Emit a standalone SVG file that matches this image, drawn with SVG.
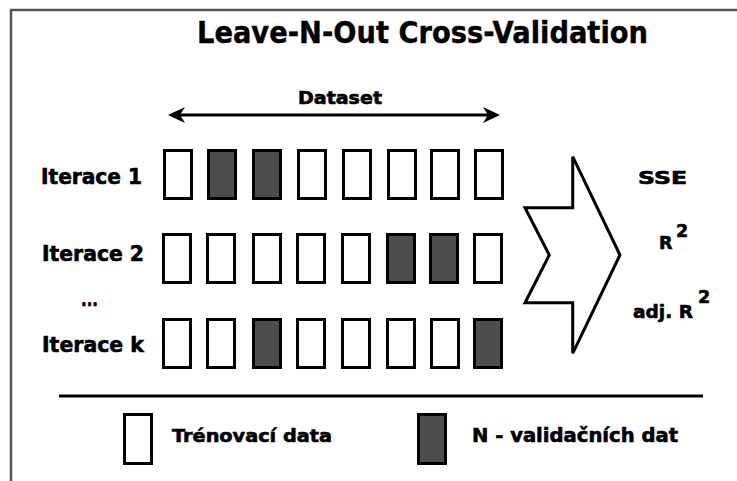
<svg xmlns="http://www.w3.org/2000/svg" width="737" height="481" viewBox="0 0 737 481">
<style>
.lbl{font-family:"DejaVu Sans","Verdana",sans-serif;font-weight:bold;fill:#000;stroke:#000;stroke-width:0.6}
.ttl{font-family:"DejaVu Sans","Verdana",sans-serif;font-weight:bold;fill:#000;stroke:#000;stroke-width:0.4}
.tr{fill:#fff;stroke:#000;stroke-width:3}
.va{fill:#4d4d4d;stroke:#000;stroke-width:3}
</style>
<defs>
<rect id="b" width="27" height="48"/>
</defs>
<rect width="737" height="481" fill="#fff"/>
<path d="M11,481 V10 H737" fill="none" stroke="#555" stroke-width="2.5"/>
<g id="title">
<text class="ttl" x="197" y="43" font-size="30" textLength="451" lengthAdjust="spacingAndGlyphs">Leave-N-Out Cross-Validation</text>
</g>
<g id="dataset">
<text class="lbl" x="298" y="104" font-size="17" textLength="84" lengthAdjust="spacingAndGlyphs">Dataset</text>
</g>
<g id="connectors">
<line x1="176" y1="115" x2="492" y2="115" stroke="#000" stroke-width="3"/>
<polygon points="168,115 185,107 180,115 185,123" fill="#000"/>
<polygon points="500,115 483,107 488,115 483,123" fill="#000"/>
<polygon points="572.7,156.7 572.7,207.7 525,207.7 549.3,255 525,302.7 572.7,302.7 572.7,353.3 620,255" fill="#fff" stroke="#000" stroke-width="3" stroke-linejoin="miter"/>
</g>
<g id="row1">
<text class="lbl" x="41" y="184" font-size="20.5" textLength="101" lengthAdjust="spacingAndGlyphs">Iterace 1</text>
<use href="#b" class="tr" x="164.5" y="150.5"/>
<use href="#b" class="va" x="208.5" y="150.5"/>
<use href="#b" class="va" x="253.5" y="150.5"/>
<use href="#b" class="tr" x="298.5" y="150.5"/>
<use href="#b" class="tr" x="343.5" y="150.5"/>
<use href="#b" class="tr" x="388.5" y="150.5"/>
<use href="#b" class="tr" x="431.5" y="150.5"/>
<use href="#b" class="tr" x="475.5" y="150.5"/>
</g>
<g id="row2">
<text class="lbl" x="42" y="261" font-size="20.5" textLength="102" lengthAdjust="spacingAndGlyphs">Iterace 2</text>
<use href="#b" class="tr" x="163.5" y="234.5"/>
<use href="#b" class="tr" x="207.5" y="234.5"/>
<use href="#b" class="tr" x="253.5" y="234.5"/>
<use href="#b" class="tr" x="297.5" y="234.5"/>
<use href="#b" class="tr" x="342.5" y="234.5"/>
<use href="#b" class="va" x="387.5" y="234.5"/>
<use href="#b" class="va" x="430.5" y="234.5"/>
<use href="#b" class="tr" x="474.5" y="234.5"/>
</g>
<g id="dots">
<text class="lbl" x="81" y="306" font-size="18" textLength="17" lengthAdjust="spacingAndGlyphs">...</text>
</g>
<g id="rowk">
<text class="lbl" x="42" y="352" font-size="20.5" textLength="102" lengthAdjust="spacingAndGlyphs">Iterace k</text>
<use href="#b" class="tr" x="163.5" y="319.5"/>
<use href="#b" class="tr" x="207.5" y="319.5"/>
<use href="#b" class="va" x="253.5" y="319.5"/>
<use href="#b" class="tr" x="297.5" y="319.5"/>
<use href="#b" class="tr" x="342.5" y="319.5"/>
<use href="#b" class="tr" x="387.5" y="319.5"/>
<use href="#b" class="tr" x="431.5" y="319.5"/>
<use href="#b" class="va" x="474.5" y="319.5"/>
</g>
<g id="metrics">
<text class="lbl" x="638" y="184" font-size="17" textLength="49" lengthAdjust="spacingAndGlyphs">SSE</text>
<text class="lbl" x="659" y="249" font-size="17.5">R</text>
<text class="lbl" x="676" y="237" font-size="17.5">2</text>
<text class="lbl" x="633" y="318" font-size="17.5" textLength="60" lengthAdjust="spacingAndGlyphs">adj. R</text>
<text class="lbl" x="698" y="303" font-size="17.5">2</text>
</g>
<g id="legend">
<line x1="59" y1="396" x2="703" y2="396" stroke="#000" stroke-width="3"/>
<rect class="tr" x="124.5" y="414.5" width="27" height="49"/>
<text class="lbl" x="172" y="442" font-size="18.5" textLength="160" lengthAdjust="spacingAndGlyphs">Trénovací data</text>
<rect class="va" x="418.5" y="414.5" width="27" height="49"/>
<text class="lbl" x="472" y="442" font-size="19" textLength="206" lengthAdjust="spacingAndGlyphs">N - validačních dat</text>
</g>
</svg>
